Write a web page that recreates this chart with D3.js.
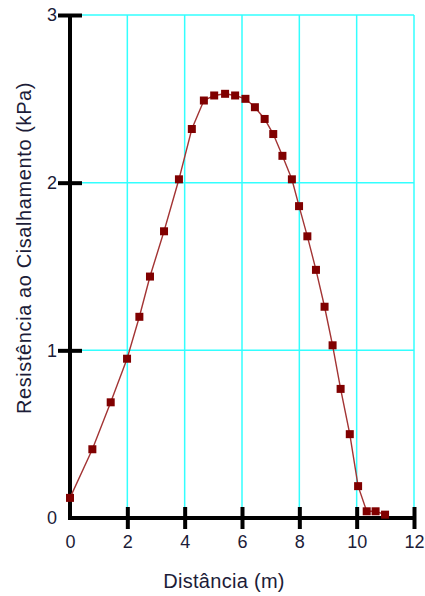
<!DOCTYPE html>
<html>
<head>
<meta charset="utf-8">
<script src="https://cdn.jsdelivr.net/npm/d3@7"></script>
<style>
  body { margin: 0; background: #fff; }
  text { font-family: "Liberation Sans", Arial, sans-serif; fill: #1c1c38; }
</style>
</head>
<body>
<div class="container"></div>
<script>
// data
const distance = [0, 0.78, 1.42, 1.99, 2.42, 2.79, 3.28, 3.8, 4.25, 4.67, 5.03, 5.41, 5.76, 6.12, 6.45,
  6.79, 7.09, 7.41, 7.74, 7.99, 8.28, 8.58, 8.88, 9.16, 9.44, 9.76, 10.05, 10.35, 10.66, 10.99];
const resistance = [0.12, 0.41, 0.69, 0.95, 1.2, 1.44, 1.71, 2.02, 2.32, 2.49, 2.52, 2.53, 2.52, 2.5, 2.45,
  2.38, 2.29, 2.16, 2.02, 1.86, 1.68, 1.48, 1.26, 1.03, 0.77, 0.5, 0.19, 0.04, 0.04, 0.02];
const xTicks = [0, 2, 4, 6, 8, 10, 12];
const yTicks = [0, 1, 2, 3];

const W = 425, H = 596;
const svg = d3.select('.container')
  .append('svg')
  .attr('width', W)
  .attr('height', H);

const x = d3.scaleLinear().domain([0, 12]).range([70, 414]);
const y = d3.scaleLinear().domain([0, 3]).range([518, 15]);

// grid
const grid = svg.append('g').attr('stroke', '#33ffff').attr('stroke-width', 1.5);
grid.selectAll('.gx').data(xTicks.slice(1)).join('line')
  .attr('x1', d => x(d)).attr('x2', d => x(d))
  .attr('y1', y(0)).attr('y2', y(3));
grid.selectAll('.gy').data(yTicks.slice(1)).join('line')
  .attr('x1', x(0)).attr('x2', x(12))
  .attr('y1', d => y(d)).attr('y2', d => y(d));

// y axis
const yAxis = svg.append('g')
  .attr('transform', `translate(${x(0)},0)`)
  .call(d3.axisLeft(y).tickValues(yTicks).tickSize(0).tickPadding(13).tickFormat(d3.format('d')));
yAxis.select('.domain').remove();
yAxis.selectAll('text').style('font-size', '18px').attr('fill', '#1c1c38');
yAxis.selectAll('.tick').filter(d => d > 0).append('line')
  .attr('x1', -12).attr('x2', 12)
  .attr('stroke', '#000').attr('stroke-width', 4);

// x axis
const xAxis = svg.append('g')
  .attr('transform', `translate(0,${y(0)})`)
  .call(d3.axisBottom(x).tickValues(xTicks).tickSize(0).tickPadding(17).tickFormat(d3.format('d')));
xAxis.select('.domain').remove();
xAxis.selectAll('text').style('font-size', '18px').attr('fill', '#1c1c38');
xAxis.selectAll('.tick').filter(d => d > 0).append('line')
  .attr('y1', -11).attr('y2', 11)
  .attr('stroke', '#000').attr('stroke-width', 4);

// axis lines
svg.append('line')
  .attr('x1', x(0)).attr('x2', x(0))
  .attr('y1', y(3)).attr('y2', y(0) + 2)
  .attr('stroke', '#000').attr('stroke-width', 4);
svg.append('line')
  .attr('x1', x(0) - 2).attr('x2', x(12))
  .attr('y1', y(0)).attr('y2', y(0))
  .attr('stroke', '#000').attr('stroke-width', 4);

// series
const pts = distance.map((d, i) => [d, resistance[i]]);
svg.append('path')
  .datum(pts)
  .attr('fill', 'none')
  .attr('stroke', '#a33434')
  .attr('stroke-width', 1.4)
  .attr('d', d3.line().x(d => x(d[0])).y(d => y(d[1])));

svg.append('g').attr('fill', '#800000')
  .selectAll('rect').data(pts).join('rect')
  .attr('x', d => x(d[0]) - 4)
  .attr('y', d => y(d[1]) - 4)
  .attr('width', 8).attr('height', 8);

// titles
svg.append('text')
  .attr('x', 224).attr('y', 588)
  .attr('text-anchor', 'middle')
  .style('font-size', '20px')
  .style('letter-spacing', '0.3px')
  .text('Distância (m)');

svg.append('text')
  .attr('transform', 'translate(31,248) rotate(-90)')
  .attr('text-anchor', 'middle')
  .style('font-size', '20px')
  .style('letter-spacing', '0.6px')
  .text('Resistência ao Cisalhamento (kPa)');
</script>
</body>
</html>
